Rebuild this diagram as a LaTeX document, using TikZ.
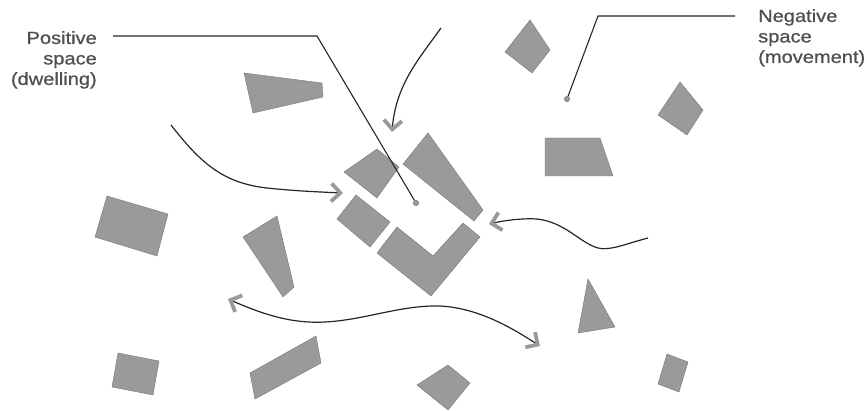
\documentclass[tikz,border=0pt]{standalone}
\usepackage{fontspec}
\newfontfamily\labelfont[FakeStretch=1.14, FakeBold=0.9]{Liberation Sans}
\usetikzlibrary{arrows.meta}
\definecolor{blockgray}{HTML}{9A9A9A}
\definecolor{edgegray}{HTML}{757575}
\definecolor{inkgray}{HTML}{262626}
\definecolor{textgray}{HTML}{505050}

\begin{document}
\begin{tikzpicture}[
    x = 1pt, y = -1pt,
    block/.style = {fill=blockgray, draw=edgegray, line width=0.4pt},
    leader/.style = {draw=inkgray, line width=1.1pt},
    flow/.style = {draw=inkgray, line width=1.2pt},
    barb/.tip = {Straight Barb[color=blockgray, length=9pt, width=18pt, line width=3.8pt]},
    dot/.style = {circle, fill=blockgray, draw=edgegray, inner sep=0pt, minimum size=5.5pt},
    caption/.style = {font=\labelfont\fontsize{17.6}{20.5}\selectfont, text=textgray, inner sep=0pt}
]
    \useasboundingbox (0,0) rectangle (867,411);

    % buildings
    \filldraw[block] (244,73) -- (322,83) -- (323,97) -- (253,113) -- cycle;
    \filldraw[block] (505,52) -- (530,20) -- (550,50) -- (532,73) -- cycle;
    \filldraw[block] (658,115) -- (680,82) -- (703,110) -- (687,135) -- cycle;
    \filldraw[block] (545,138) -- (600,138) -- (613,176) -- (545,176) -- cycle;
    \filldraw[block] (107,196) -- (168,214) -- (157,256) -- (95,237) -- cycle;
    \filldraw[block] (243,237) -- (277,216) -- (294,287) -- (283,297) -- cycle;
    \filldraw[block] (118,353) -- (159,361) -- (153,395) -- (112,387) -- cycle;
    \filldraw[block] (250,373) -- (316,336) -- (321,363) -- (255,399) -- cycle;
    \filldraw[block] (417,385) -- (448,365) -- (470,383) -- (448,410) -- cycle;
    \filldraw[block] (588,279) -- (615,327) -- (578,333) -- cycle;
    \filldraw[block] (667,354) -- (688,362) -- (679,392) -- (658,384) -- cycle;

    % central cluster
    \filldraw[block] (344,172) -- (377,149) -- (399,167) -- (377,198) -- cycle;
    \filldraw[block] (403,164) -- (428,133) -- (483,210) -- (474,221) -- cycle;
    \filldraw[block] (337,219) -- (356,195) -- (390,222) -- (370,247) -- cycle;
    \filldraw[block] (377,253) -- (397,227) -- (433,256) -- (463,223)
        -- (480,237) -- (431,296) -- cycle;

    % labels
    \node[caption, align=right, anchor=north east] (posLabel) at (97,31)
        {Positive\\space\\(dwelling)};
    \node[caption, align=left, anchor=north west] (negLabel) at (758,9)
        {Negative\\space\\(movement)};

    \node[dot] (posDot) at (416,203) {};
    \node[dot] (negDot) at (567,99) {};
    \coordinate (posStart) at (113,36);
    \coordinate (negStart) at (735,16);

    \draw[leader] (posStart) -- (317,36) -- (posDot);
    \draw[leader] (negStart) -- (598,16) -- (negDot);

    % movement
    \coordinate (topStart) at (441,28);
    \coordinate (topEnd) at (392,132);
    \coordinate (leftStart) at (171,125);
    \coordinate (leftEnd) at (343,193);
    \coordinate (rightStart) at (648,238);
    \coordinate (rightEnd) at (489,224);
    \coordinate (bottomWest) at (228,299);
    \coordinate (bottomEast) at (540,346);

    \draw[flow, -barb] (topStart) .. controls (418,60) and (396,85) .. (topEnd);
    \draw[flow, -barb] (leftStart) .. controls (200,162) and (222,183) .. (267,188)
        .. controls (295,191) and (320,192) .. (leftEnd);
    \draw[flow, -barb] (rightStart) .. controls (625,244) and (610,251) .. (598,248)
        .. controls (580,243) and (565,222) .. (537,219)
        .. controls (520,218) and (502,221) .. (rightEnd);
    \draw[flow, barb-barb] (bottomWest) .. controls (260,313) and (290,324) .. (325,322)
        .. controls (365,320) and (400,305) .. (440,306)
        .. controls (480,308) and (515,330) .. (bottomEast);
\end{tikzpicture}
\end{document}
